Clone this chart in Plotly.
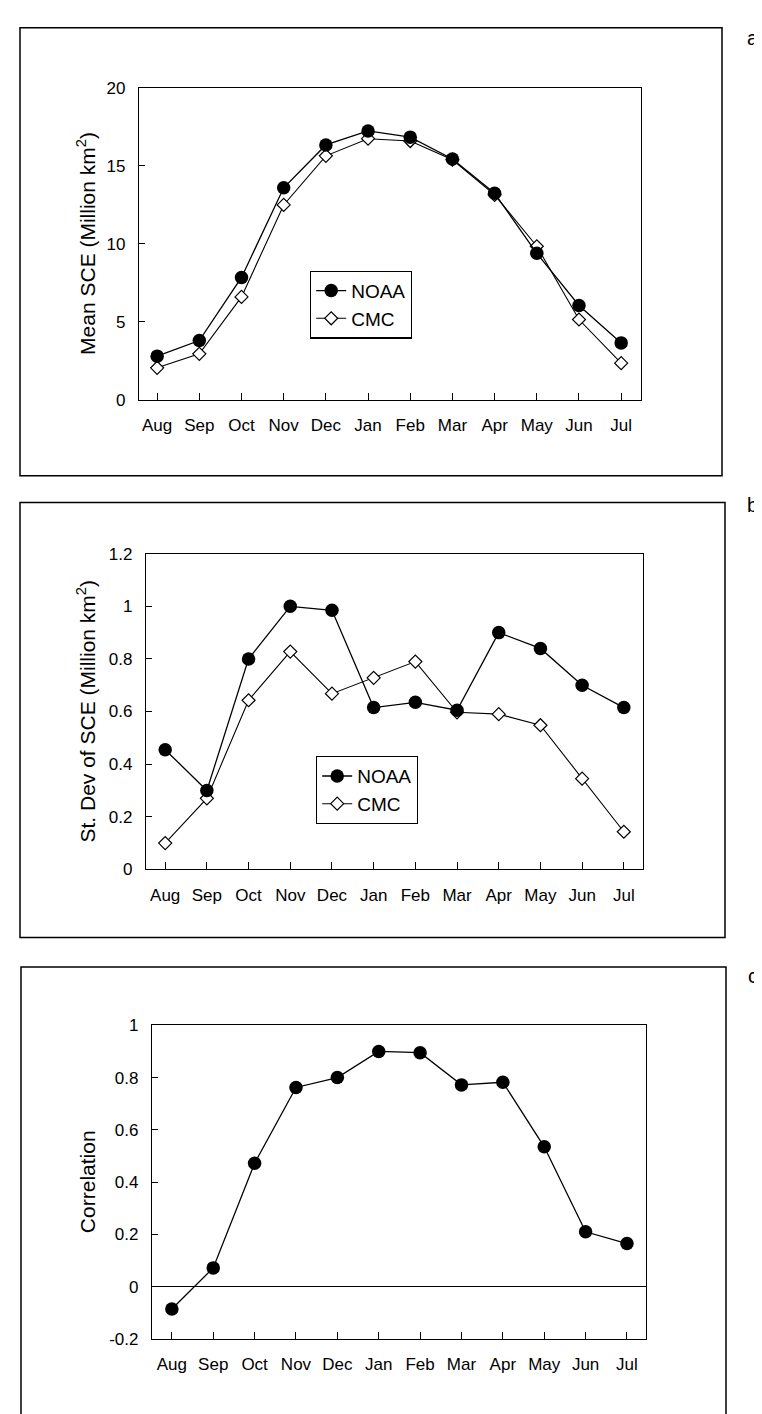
import plotly.graph_objects as go

months = ["Aug", "Sep", "Oct", "Nov", "Dec", "Jan", "Feb", "Mar", "Apr", "May", "Jun", "Jul"]

# Panel a: mean snow cover extent (million km2)
mean_noaa = [2.8, 3.8, 7.85, 13.6, 16.35, 17.25, 16.85, 15.45, 13.25, 9.4, 6.05, 3.65]
mean_cmc = [2.05, 2.95, 6.6, 12.5, 15.65, 16.75, 16.6, 15.4, 13.15, 9.85, 5.15, 2.35]

# Panel b: standard deviation of SCE (million km2)
sd_noaa = [0.455, 0.30, 0.80, 1.00, 0.985, 0.615, 0.635, 0.605, 0.90, 0.84, 0.70, 0.615]
sd_cmc = [0.10, 0.27, 0.643, 0.828, 0.668, 0.728, 0.79, 0.597, 0.59, 0.548, 0.345, 0.143]

# Panel c: correlation NOAA vs CMC
corr = [-0.085, 0.072, 0.472, 0.762, 0.80, 0.90, 0.895, 0.772, 0.782, 0.535, 0.21, 0.165]

ticks_a = [0, 5, 10, 15, 20]
ticks_b = [0, 0.2, 0.4, 0.6, 0.8, 1, 1.2]
ticks_c = [-0.2, 0, 0.2, 0.4, 0.6, 0.8, 1]
ticks_c_text = ["-0.2", "0", "0.2", "0.4", "0.6", "0.8", "1"]

W, H = 762, 1414
FONT = "Liberation Sans, Arial, sans-serif"


def px(x):
    return x / W


def py(y):
    return 1 - y / H


noaa_style = dict(mode="lines+markers", line=dict(color="black", width=1.3),
                  marker=dict(symbol="circle", size=13.5, color="black"))
cmc_style = dict(mode="lines+markers", line=dict(color="black", width=1.1),
                 marker=dict(symbol="diamond", size=10, color="white",
                             line=dict(color="black", width=1.2)))

fig = go.Figure()
# Panel a
fig.add_trace(go.Scatter(x=months, y=mean_cmc, name="CMC", xaxis="x", yaxis="y",
                         legend="legend", legendrank=2, **cmc_style))
fig.add_trace(go.Scatter(x=months, y=mean_noaa, name="NOAA", xaxis="x", yaxis="y",
                         legend="legend", legendrank=1, **noaa_style))
# Panel b
fig.add_trace(go.Scatter(x=months, y=sd_cmc, name="CMC", xaxis="x2", yaxis="y2",
                         legend="legend2", legendrank=2, **cmc_style))
fig.add_trace(go.Scatter(x=months, y=sd_noaa, name="NOAA", xaxis="x2", yaxis="y2",
                         legend="legend2", legendrank=1, **noaa_style))
# Panel c
fig.add_trace(go.Scatter(x=months, y=corr, name="Correlation", xaxis="x3", yaxis="y3",
                         showlegend=False, **noaa_style))

common_x = dict(type="category", showline=True, linecolor="black", linewidth=1.2,
                mirror=True, ticks="inside", ticklen=7, tickcolor="black",
                showgrid=False, zeroline=False, ticklabelstandoff=10,
                tickfont=dict(family=FONT, size=17, color="black"), fixedrange=True)
common_y = dict(showline=True, linecolor="black", linewidth=1.2, mirror=True,
                ticks="inside", ticklen=6, tickcolor="black", showgrid=False,
                ticklabelstandoff=9, tickfont=dict(family=FONT, size=17, color="black"))

layout = dict(
    width=W, height=H, margin=dict(l=0, r=0, t=0, b=0),
    paper_bgcolor="white", plot_bgcolor="white", font=dict(family=FONT, color="black"),
    xaxis=dict(domain=[px(131), px(633)], range=[-0.43, 11.47], anchor="y", **common_x),
    yaxis=dict(domain=[py(388), py(72)], range=[0, 20], tickvals=ticks_a, anchor="x",
               zeroline=False, **common_y),
    xaxis2=dict(domain=[px(138), px(635)], range=[-0.46, 11.46], anchor="y2", **common_x),
    yaxis2=dict(domain=[py(864), py(544)], range=[0, 1.2], tickvals=ticks_b, anchor="x2",
                zeroline=False, **common_y),
    xaxis3=dict(domain=[px(144), px(638)], range=[-0.48, 11.46], anchor="y3", **common_x),
    yaxis3=dict(domain=[py(1340), py(1022)], range=[-0.2, 1], tickvals=ticks_c,
                ticktext=ticks_c_text, anchor="x3", zeroline=True, zerolinecolor="black",
                zerolinewidth=1.2, **common_y),
    legend=dict(x=px(302), y=py(257), xanchor="left", yanchor="top",
                bordercolor="black", borderwidth=1.2, bgcolor="white",
                font=dict(family=FONT, size=19, color="black"), itemwidth=30,
                tracegroupgap=0),
    legend2=dict(x=px(308), y=py(749), xanchor="left", yanchor="top",
                 bordercolor="black", borderwidth=1.2, bgcolor="white",
                 font=dict(family=FONT, size=19, color="black"), itemwidth=30,
                 tracegroupgap=0),
    showlegend=True,
)
fig.update_layout(**layout)

# Outer frames of the three panels
frames = [(12, 11, 714, 465), (12, 492, 717, 933), (13, 963, 718, 1420)]
for x0, y0, x1, y1 in frames:
    fig.add_shape(type="rect", xref="paper", yref="paper", x0=px(x0), x1=px(x1),
                  y0=py(y1), y1=py(y0), line=dict(color="black", width=1.5))

# Y axis titles
titles = [("Mean SCE (Million km<sup>2</sup>)", 78, 230),
          ("St. Dev of SCE (Million km<sup>2</sup>)", 78, 704),
          ("Correlation", 79, 1181)]
for txt, xc, yc in titles:
    fig.add_annotation(text=txt, x=px(xc), y=py(yc), xref="paper", yref="paper",
                       textangle=-90, showarrow=False, xanchor="center", yanchor="middle",
                       font=dict(family=FONT, size=21, color="black"))

# Panel letters
for txt, yc in [("a)", 21), ("b)", 495), ("c)", 972)]:
    fig.add_annotation(text=txt, x=px(759), y=py(yc), xref="paper", yref="paper",
                       showarrow=False, xanchor="right", yanchor="middle",
                       font=dict(family=FONT, size=20, color="black"))

fig.write_html("out.html")
